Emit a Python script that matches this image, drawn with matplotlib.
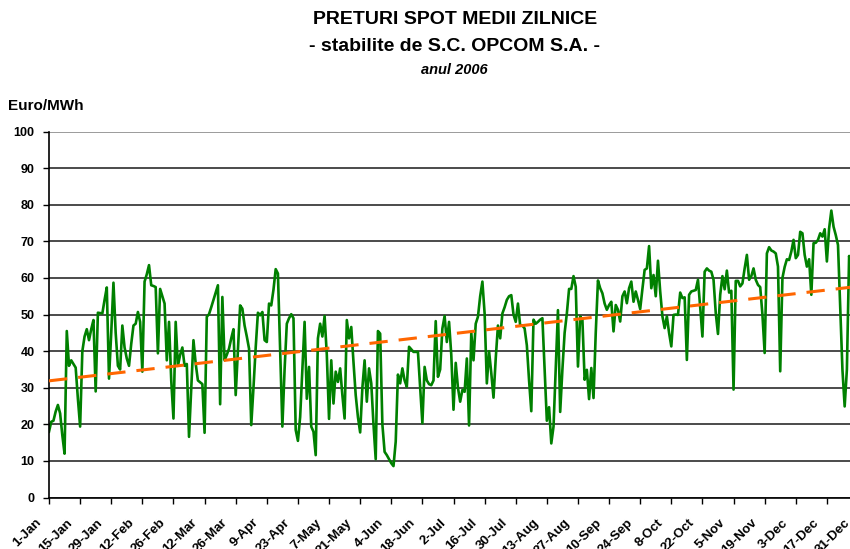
import numpy as np
import matplotlib.pyplot as plt
import matplotlib.transforms as mtransforms

# daily average spot prices 2006 (Euro/MWh)
jan = [18, 20.7, 21, 23.5, 25.3, 23, 17, 12, 45.5, 36, 37.5, 36.5, 35.5, 27, 19.4, 40,
       44, 46, 43, 46, 48.5, 29, 50.5, 50.4, 50.3, 54, 57.4, 32.5, 45, 58.7, 45]
feb = [36, 35, 47, 41, 38, 36, 42, 47, 47.5, 50.7, 48, 34.4, 59, 61, 63.5, 58, 57.8,
       57.5, 39.4, 57, 55, 53, 37.5, 48, 32, 21.6, 48, 36]
mar = [39, 41, 36, 36.5, 16.6, 30, 43, 36.6, 32, 31.5, 31, 17.7, 49.4, 50.1, 52, 54,
       56, 58, 25.5, 54.8, 37.5, 39, 40.7, 43.5, 46, 28, 40, 52.5, 51.6, 47, 44]
apr = [40.7, 19.8, 30, 41, 50.5, 49.8, 50.7, 43, 42.5, 53, 52.5, 56.8, 62.4, 61.2, 40.3,
       19.4, 35, 47.5, 49, 50.1, 49, 18.5, 15.5, 22, 35, 48, 27, 35.7, 19.4, 18]
may = [11.6, 43.5, 47.5, 44, 49.6, 39, 21.5, 37.5, 25.7, 34.4, 31.6, 35.3, 28, 21.6, 48.5,
       43.5, 46.6, 37, 28, 22, 17.8, 30, 37.5, 26.2, 35.3, 31.2, 20, 10.5, 45.5, 44.8, 20]
jun = [12.5, 11.6, 10.5, 9.4, 8.6, 15.3, 33.6, 31.2, 35.3, 32, 30.3, 41.2, 40.5, 39.8,
       39.8, 39.8, 30, 20.3, 35.7, 32, 31, 30.7, 32, 48.2, 33, 35, 46.2, 49.6, 42.5, 48]
jul = [39, 24, 36.8, 30, 26.2, 29.4, 28.9, 38, 19.7, 45, 37.5, 47.5, 49.4, 55, 59, 50.3,
       31.2, 40, 34, 27.3, 38, 47, 43.5, 50.3, 52, 54, 55, 55.3, 50, 48, 53]
aug = [47, 47, 46.2, 41.6, 32, 23.6, 48.6, 47.5, 48, 48.6, 49, 35, 21, 24.7, 14.8, 19.4,
       35, 51.2, 23.4, 35, 45, 50.3, 57, 57, 60.5, 57.6, 35.8, 49.5, 48.5, 32.2, 34.9]
sep = [26.9, 35.4, 27.2, 45, 59.3, 57.2, 55.8, 53, 51.3, 52.6, 53.5, 45.4, 52.6, 51.3,
       48.1, 55, 56.3, 53.1, 57.2, 59, 53.5, 56.3, 54, 51.5, 57, 62.2, 62.6, 68.7, 57.2, 60.8]
oct = [55, 64.7, 56.3, 49.5, 46.3, 49.5, 45, 41.3, 49.9, 50, 49.9, 56, 54.5, 54.7, 37.6,
       55.4, 56.3, 56.5, 56.7, 59.5, 52, 44, 61.7, 62.6, 62, 61.7, 59.5, 50.4, 44.7, 55.4, 60.5]
nov = [56.9, 62, 56, 56.5, 29.5, 59.2, 59.2, 57.7, 58.5, 62.6, 66.3, 59.5, 60.5, 62.6,
       59.5, 58.1, 57.5, 50, 39.5, 66.7, 68.4, 67.5, 67.2, 66.7, 63.1, 34.5, 60, 63, 65.1, 64.9]
dec = [67.2, 70.4, 65.4, 66.3, 72.6, 72.2, 66.3, 63.1, 65.1, 55.4, 69.5, 69.6, 70.4, 72.2,
       71.3, 73.3, 64.5, 73.5, 78.4, 74, 71.7, 69, 52.2, 34.9, 24.9, 35, 66, 62, 58, 55, 52]

tick_labels = ['1-Jan', '15-Jan', '29-Jan', '12-Feb', '26-Feb', '12-Mar', '26-Mar',
               '9-Apr', '23-Apr', '7-May', '21-May', '4-Jun', '18-Jun', '2-Jul',
               '16-Jul', '30-Jul', '13-Aug', '27-Aug', '10-Sep', '24-Sep', '8-Oct',
               '22-Oct', '5-Nov', '19-Nov', '3-Dec', '17-Dec', '31-Dec']

values = np.array(jan + feb + mar + apr + may + jun + jul + aug + sep + oct + nov + dec)
days = np.arange(len(values))
tick_days = np.arange(0, len(values), 14)

# linear trend (like the Excel trendline)
coef = np.polyfit(days, values, 1)
trend = np.polyval(coef, days)

plt.rcParams['font.family'] = ['Liberation Sans', 'DejaVu Sans']

fig = plt.figure(figsize=(8.5, 5.49), dpi=100)
# the right end of the plot runs past the image edge, as in the original
ax = fig.add_axes([49 / 850, 51.4 / 549, 809 / 850, 366.1 / 549])

ax.plot(days, values, color='#008000', lw=1.9, zorder=2)
ax.plot(days, trend, color='#FF6600', lw=2.2, dashes=(6, 3.6), zorder=3)

ax.set_xlim(0, 364)
ax.set_ylim(0, 100)
ax.set_yticks(range(0, 101, 10))
ax.set_yticklabels([str(v) for v in range(0, 101, 10)], fontsize=9, fontweight='bold')
ax.set_xticks(tick_days)
ax.set_xticklabels([])

# rotated date labels, shifted left/down of their tick like the Excel ones
lbl_trans = ax.get_xaxis_transform() + mtransforms.ScaledTranslation(
    -14 / 100, -19 / 100, fig.dpi_scale_trans)
for d, lbl in zip(tick_days, tick_labels):
    ax.text(d, 0, lbl, transform=lbl_trans, rotation=45, ha='right', va='top',
            rotation_mode='anchor', fontsize=9.5, fontweight='bold', clip_on=False)

ax.yaxis.grid(True, color='#1a1a1a', lw=1.1)
ax.get_ygridlines()[-1].set_color('#808080')
ax.set_axisbelow(True)
ax.spines['top'].set_visible(False)
ax.spines['right'].set_visible(False)
ax.spines['left'].set_linewidth(1.2)
ax.spines['bottom'].set_linewidth(1.2)
ax.tick_params(direction='out', length=4, width=1)
ax.tick_params(axis='y', pad=6.5)

fig.text(0.535, 1 - 20 / 549, 'PRETURI SPOT MEDII ZILNICE', ha='center', va='center',
         fontsize=14, fontweight='bold')
fig.text(0.535, 1 - 47 / 549, '- stabilite de S.C. OPCOM S.A. -', ha='center', va='center',
         fontsize=14, fontweight='bold')
fig.text(0.535, 1 - 70 / 549, 'anul 2006', ha='center', va='center',
         fontsize=10.5, fontweight='bold', style='italic')
fig.text(8 / 850, 1 - 106 / 549, 'Euro/MWh', ha='left', va='center',
         fontsize=11, fontweight='bold')

fig.savefig('out.png', dpi=100)
